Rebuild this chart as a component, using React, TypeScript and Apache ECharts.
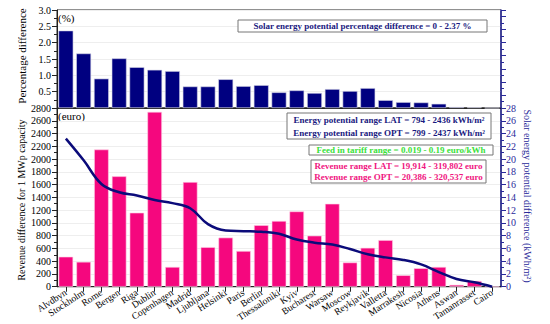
import React, { useEffect, useRef } from "react";
import * as echarts from "echarts";

const cities = ["Alvdbyn", "Stockholm", "Rome", "Bergen", "Riga", "Dublin", "Copenhagen", "Madrid", "Ljubljana", "Helsinki", "Paris", "Berlin", "Thessaloniki", "Kyiv", "Bucharest", "Warsaw", "Moscow", "Reykjavik", "Valletta", "Marrakesh", "Nicosia", "Athens", "Aswan", "Tamanrasset", "Cairo"];
const percentDiff = [2.37, 1.67, 0.9, 1.52, 1.25, 1.17, 1.13, 0.66, 0.66, 0.88, 0.67, 0.7, 0.48, 0.54, 0.46, 0.58, 0.52, 0.61, 0.24, 0.18, 0.17, 0.13, 0.03, 0.02, 0];
const revenueDiff = [470, 390, 2150, 1730, 1160, 2740, 310, 1640, 620, 770, 560, 965, 1030, 1180, 800, 1300, 380, 610, 730, 180, 290, 310, 30, 90, 0];
const energyDiff = [23.2, 19.8, 16.1, 14.8, 14.3, 13.6, 13.1, 12.3, 9.8, 8.8, 8.7, 8.6, 8.3, 7.4, 6.9, 6.6, 5.9, 5.1, 4.6, 4.2, 3.5, 2.3, 1.2, 0.7, 0];

const FONT = "Liberation Serif";
const NAVY = "#000080";
const PINK = "#f5077e";
const BLUE = "#2a2a9a";

function box(x: number, y: number, w: number, h: number, lines: string[], color: string) {
  const children: any[] = [
    { type: "rect", shape: { x: 0, y: 0, width: w, height: h }, style: { fill: "#fff", stroke: "#777", lineWidth: 1 }, z: 10 },
  ];
  const step = h / lines.length;
  lines.forEach((t, i) => {
    children.push({
      type: "text",
      x: w / 2,
      y: step * (i + 0.5),
      z: 11,
      style: { text: t, fill: color, font: `bold 9px "${FONT}"`, align: "center", verticalAlign: "middle" },
    });
  });
  return { type: "group", x, y, children };
}

function vText(x: number, y: number, text: string, color: string, size: number, rot: number) {
  return {
    type: "text", x, y, rotation: rot,
    style: { text, fill: color, font: `${size}px "${FONT}"`, align: "center", verticalAlign: "middle" },
  };
}

export default function App() {
  const ref = useRef<HTMLDivElement>(null);
  useEffect(() => {
    if (!ref.current) return;
    const chart = echarts.init(ref.current, undefined, { renderer: "svg" });
    const axisLabelStyle = { fontFamily: FONT, fontSize: 10, color: "#000" };
    chart.setOption({
      animation: false,
      textStyle: { fontFamily: FONT },
      grid: [
        { left: 57, right: 49, top: 10, height: 98, show: true, borderColor: "#222", borderWidth: 1, backgroundColor: "transparent" },
        { left: 57, right: 49, top: 108, height: 183, show: true, borderColor: "#222", borderWidth: 1, backgroundColor: "transparent" },
      ],
      xAxis: [
        { type: "category", gridIndex: 0, data: cities, axisLabel: { show: false }, axisTick: { show: false }, axisLine: { lineStyle: { color: "#222" } } },
        {
          type: "category", gridIndex: 1, data: cities,
          axisLine: { lineStyle: { color: "#222" } },
          axisTick: { show: true, alignWithLabel: true, lineStyle: { color: "#222" } },
          axisLabel: { interval: 0, rotate: 33, fontFamily: FONT, fontSize: 9.5, color: "#000", margin: 5 },
        },
      ],
      yAxis: [
        {
          type: "value", gridIndex: 0, min: 0, max: 3, interval: 0.5,
          axisLine: { show: true, lineStyle: { color: "#222" } },
          axisTick: { show: true, lineStyle: { color: "#222" } },
          minorTick: { show: true, splitNumber: 2, lineStyle: { color: "#222" } },
          axisLabel: { ...axisLabelStyle, margin: 6, formatter: (v: number) => (v === 0 ? "" : v.toFixed(1)) },
          splitLine: { show: true, lineStyle: { color: "#eeeeee" } },
        },
        {
          type: "value", gridIndex: 1, min: 0, max: 2800, interval: 200,
          axisLine: { show: true, lineStyle: { color: "#222" } },
          axisTick: { show: true, lineStyle: { color: "#222" } },
          minorTick: { show: true, splitNumber: 2, lineStyle: { color: "#222" } },
          axisLabel: { ...axisLabelStyle, margin: 6, formatter: (v: number) => String(v) },
          splitLine: { show: true, lineStyle: { color: "#eeeeee" } },
        },
        {
          type: "value", gridIndex: 1, position: "right", min: 0, max: 28, interval: 2,
          axisLine: { show: true, lineStyle: { color: BLUE, width: 1.5 } },
          axisTick: { show: true, lineStyle: { color: BLUE } },
          minorTick: { show: true, splitNumber: 2, lineStyle: { color: BLUE } },
          axisLabel: { ...axisLabelStyle, color: BLUE, margin: 5 },
          splitLine: { show: false },
        },
        {
          type: "value", gridIndex: 0, position: "right", min: 0, max: 15, interval: 2,
          axisLine: { show: true, lineStyle: { color: BLUE, width: 1.5 } },
          axisTick: { show: true, lineStyle: { color: BLUE } },
          minorTick: { show: true, splitNumber: 2, lineStyle: { color: BLUE } },
          axisLabel: { show: false },
          splitLine: { show: false },
        },
      ],
      series: [
        {
          type: "bar", xAxisIndex: 0, yAxisIndex: 0, data: percentDiff, barCategoryGap: "16%",
          itemStyle: { color: NAVY, borderColor: "#d8d8e8", borderWidth: 0.6 },
        },
        {
          type: "bar", xAxisIndex: 1, yAxisIndex: 1, data: revenueDiff, barCategoryGap: "18%",
          itemStyle: { color: PINK, borderColor: "#ffd0e6", borderWidth: 0.6 },
        },
        {
          type: "line", xAxisIndex: 1, yAxisIndex: 2, data: energyDiff, smooth: 0.4, symbol: "none",
          lineStyle: { color: "#0b0b7a", width: 2.5 }, z: 5,
        },
      ],
      graphic: [
        vText(22, 56, "Percentage difference", "#000", 11, Math.PI / 2),
        vText(21, 200, "Revenue difference for 1 MWp capacity", "#000", 10, Math.PI / 2),
        vText(527, 196, "Solar energy potential difference (kWh/m²)", BLUE, 10, -Math.PI / 2),
        { type: "text", x: 58, y: 12, style: { text: "(%)", fill: "#000", font: `11px "${FONT}"` } },
        { type: "text", x: 58, y: 110, style: { text: "(euro)", fill: "#000", font: `11px "${FONT}"` } },
        box(238, 20, 249, 12, ["Solar energy potential percentage difference = 0 - 2.37 %"], "#1a1a80"),
        box(287, 113, 204, 26, ["Energy potential range LAT = 794 - 2436 kWh/m²", "Energy potential range OPT = 799 - 2437 kWh/m²"], "#1a1a80"),
        box(309, 145, 184, 10, ["Feed in tariff range = 0.019 - 0.19 euro/kWh"], "#3ae03a"),
        box(311, 160, 175, 23, ["Revenue range LAT = 19,914 - 319,802 euro", "Revenue range OPT = 20,386 - 320,537 euro"], "#f0167f"),
      ],
    });
    return () => chart.dispose();
  }, []);
  return <div ref={ref} style={{ position: "absolute", left: 0, top: 0, width: 550, height: 324 }} />;
}
